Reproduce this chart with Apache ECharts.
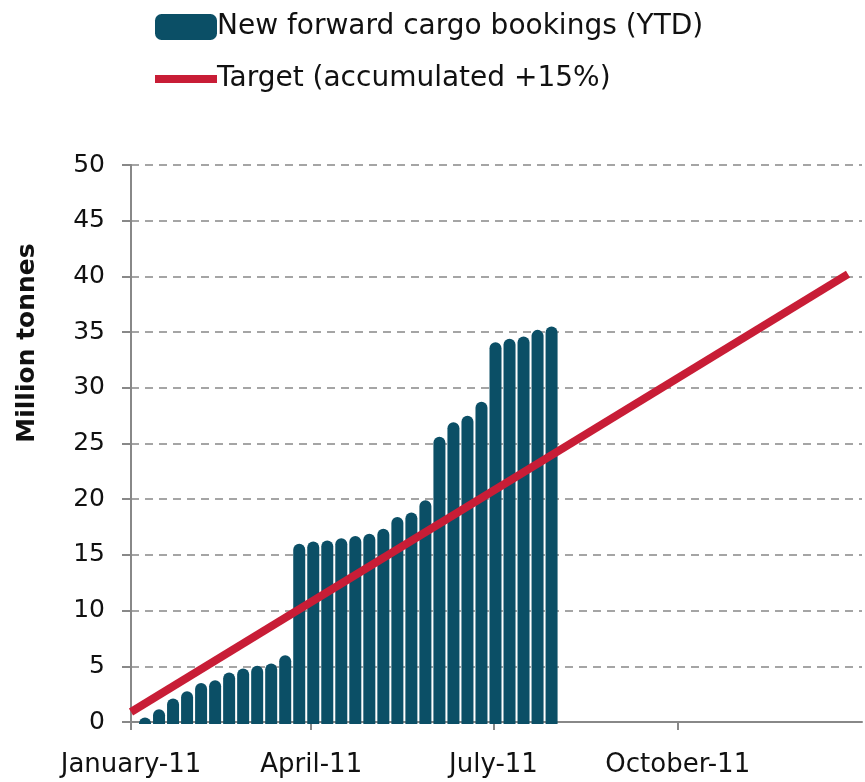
<!DOCTYPE html>
<html>
<head>
<meta charset="utf-8">
<script src="https://cdn.jsdelivr.net/npm/echarts@6/dist/echarts.min.js"></script>
<style>
html,body{margin:0;padding:0;background:#fff;}
#chart{width:865px;height:782px;}
</style>
</head>
<body>
<div id="chart"></div>
<script>
// Weekly dates for bookings (YTD)
const weekDates = ['2011-01-08','2011-01-15','2011-01-22','2011-01-29','2011-02-05','2011-02-12','2011-02-19','2011-02-26',
  '2011-03-05','2011-03-12','2011-03-19','2011-03-26','2011-04-02','2011-04-09','2011-04-16','2011-04-23','2011-04-30',
  '2011-05-07','2011-05-14','2011-05-21','2011-05-28','2011-06-04','2011-06-11','2011-06-18','2011-06-25',
  '2011-07-02','2011-07-09','2011-07-16','2011-07-23','2011-07-30'];
const bookings = [0.4, 1.15, 2.1, 2.75, 3.5, 3.75, 4.45, 4.8, 5.05, 5.25, 6.0, 16.0, 16.2, 16.3, 16.5, 16.7, 16.9, 17.35,
  18.4, 18.8, 19.9, 25.6, 26.9, 27.5, 28.75, 34.1, 34.4, 34.6, 35.2, 35.5];
const targetDates = ['2011-01-01', '2011-12-25'];
const targetValues = [0.9, 40.2];
const monthNames = ['January','February','March','April','May','June','July','August','September','October','November','December'];
const yTicks = {min: 0, max: 50, interval: 5};
const seriesNames = ['New forward cargo bookings (YTD)', 'Target (accumulated +15%)'];

const BAR_COLOR = '#0b4f66';
const LINE_COLOR = '#c81d36';
const FONT = 'DejaVu Sans';
const chart = echarts.init(document.getElementById('chart'), null, {renderer: 'canvas'});
chart.setOption({
  animation: false,
  textStyle: {fontFamily: FONT},
  grid: {left: 131, right: 3, top: 165, bottom: 60, containLabel: false},
  legend: [
    {data: [{name: seriesNames[0], icon: 'roundRect', itemStyle: {color: BAR_COLOR}}], left: 150, top: 8, orient: 'vertical',
      itemWidth: 62, itemHeight: 26, itemGap: 0,
      textStyle: {fontSize: 28, color: '#111', fontFamily: FONT, padding: [0,0,0,-5]}},
    {data: [{name: seriesNames[1], icon: 'rect', itemStyle: {color: LINE_COLOR}}], left: 150, top: 60, orient: 'vertical',
      itemWidth: 62, itemHeight: 8, itemGap: 0,
      textStyle: {fontSize: 28, color: '#111', fontFamily: FONT, padding: [0,0,0,-5]}}
  ],
  xAxis: {
    type: 'time',
    min: '2011-01-01', max: '2012-01-01',
    splitNumber: 4,
    minInterval: 89 * 86400000,
    maxInterval: 93 * 86400000,
    axisLine: {lineStyle: {color: '#888', width: 2}},
    axisTick: {show: true, length: 8, lineStyle: {color: '#888', width: 2}},
    splitLine: {show: false},
    axisLabel: {
      fontSize: 26, color: '#111', margin: 30, fontFamily: FONT,
      showMaxLabel: false,
      formatter: function (v) {
        const d = new Date(v);
        if (d.getFullYear() !== 2011) return '';
        return monthNames[d.getMonth()] + '-11';
      }
    }
  },
  yAxis: {
    type: 'value', min: yTicks.min, max: yTicks.max, interval: yTicks.interval,
    axisLine: {show: true, lineStyle: {color: '#888', width: 2}},
    axisTick: {show: true, length: 9, lineStyle: {color: '#888', width: 2}},
    splitLine: {show: true, lineStyle: {color: '#888', width: 1.5, type: [8, 6]}},
    axisLabel: {fontSize: 25, color: '#111', margin: 26, fontFamily: FONT}
  },
  graphic: [{
    type: 'text', x: 27, y: 343, rotation: Math.PI / 2,
    style: {text: 'Million tonnes', font: 'bold 25px "DejaVu Sans"', fill: '#111',
      textAlign: 'center', textVerticalAlign: 'middle'}
  }],
  series: [
    {
      name: seriesNames[0], type: 'custom',
      data: weekDates.map((d, i) => [d, bookings[i]]),
      encode: {x: 0, y: 1},
      itemStyle: {color: BAR_COLOR},
      renderItem: function (params, api) {
        const top = api.coord([api.value(0), api.value(1)]);
        const base = api.coord([api.value(0), 0]);
        const w = 12;
        return {
          type: 'rect',
          shape: {x: top[0] - w / 2, y: top[1], width: w, height: base[1] - top[1] + 2, r: [6, 6, 0, 0]},
          style: {fill: BAR_COLOR}
        };
      },
      z: 2
    },
    {
      name: seriesNames[1], type: 'line',
      data: targetDates.map((d, i) => [d, targetValues[i]]),
      symbol: 'none',
      lineStyle: {color: LINE_COLOR, width: 8, cap: 'butt'},
      itemStyle: {color: LINE_COLOR},
      z: 3
    }
  ]
});
</script>
</body>
</html>
